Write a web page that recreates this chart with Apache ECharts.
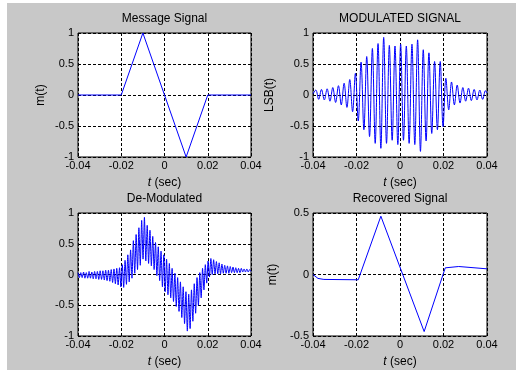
<!DOCTYPE html>
<html>
<head>
<meta charset="utf-8">
<script src="https://cdn.jsdelivr.net/npm/echarts@6/dist/echarts.min.js"></script>
<style>
  html, body { margin: 0; padding: 0; background: #fff; }
  #chart { position: absolute; left: 7px; top: 3px; width: 509px; height: 367px; }
</style>
</head>
<body>
<div id="chart"></div>
<script>
// message signal
const msgT = [-0.04, -0.02, -0.01, 0.01, 0.02, 0.04];
const msgY = [0, 0, 1, -1, 0, 0];

// LSB modulated signal (peaks / troughs)
const lsbT = [-0.04, -0.0387, -0.0374, -0.0361, -0.0348, -0.0335, -0.0322, -0.0309, -0.0296, -0.0283,
  -0.027, -0.0257, -0.0244, -0.0231, -0.0218, -0.0205, -0.0192, -0.0179, -0.0166, -0.0153,
  -0.014, -0.0127, -0.0114, -0.0101, -0.0088, -0.0075, -0.0062, -0.0049, -0.0036, -0.0023,
  -0.001, 0.0003, 0.0016, 0.0029, 0.0042, 0.0055, 0.0068, 0.0081, 0.0094, 0.0107,
  0.012, 0.0133, 0.0146, 0.0159, 0.0172, 0.0185, 0.0198, 0.0211, 0.0224, 0.0237,
  0.025, 0.0263, 0.0276, 0.0289, 0.0302, 0.0315, 0.0328, 0.0341, 0.0354, 0.0367,
  0.038, 0.0393, 0.04];
const lsbY = [0.02, 0.08, -0.07, 0.09, -0.08, 0.10, -0.10, 0.12, -0.12, 0.15,
  -0.16, 0.19, -0.20, 0.25, -0.27, 0.35, -0.42, 0.53, -0.56, 0.62,
  -0.67, 0.75, -0.78, 0.83, -0.86, 0.93, -0.78, 0.80, -0.73, 0.79,
  -0.80, 0.82, -0.73, 0.79, -0.78, 0.82, -0.80, 0.89, -0.91, 0.73,
  -0.74, 0.68, -0.62, 0.54, -0.56, 0.54, -0.51, 0.27, -0.24, 0.21,
  -0.16, 0.16, -0.13, 0.12, -0.10, 0.11, -0.09, 0.09, -0.08, 0.08,
  -0.07, 0.07, 0.03];

// de-modulated signal
const demodT = [-0.04, -0.03936, -0.03872, -0.03808, -0.03744, -0.0368, -0.03616, -0.03552, -0.03488, -0.03424,
  -0.0336, -0.03296, -0.03232, -0.03168, -0.03104, -0.0304, -0.02976, -0.02912, -0.02848, -0.02784,
  -0.0272, -0.02656, -0.02592, -0.02528, -0.02464, -0.024, -0.02336, -0.02272, -0.02208, -0.02144,
  -0.0208, -0.02016, -0.01952, -0.01888, -0.01824, -0.0176, -0.01696, -0.01632, -0.01568, -0.01504,
  -0.0144, -0.01376, -0.01312, -0.01248, -0.01184, -0.0112, -0.01056, -0.00992, -0.00928, -0.00864,
  -0.008, -0.00736, -0.00672, -0.00608, -0.00544, -0.0048, -0.00416, -0.00352, -0.00288, -0.00224,
  -0.0016, -0.00096, -0.00032, 0.00032, 0.00096, 0.0016, 0.00224, 0.00288, 0.00352, 0.00416,
  0.0048, 0.00544, 0.00608, 0.00672, 0.00736, 0.008, 0.00864, 0.00928, 0.00992, 0.01056,
  0.0112, 0.01184, 0.01248, 0.01312, 0.01376, 0.0144, 0.01504, 0.01568, 0.01632, 0.01696,
  0.0176, 0.01824, 0.01888, 0.01952, 0.02016, 0.0208, 0.02144, 0.02208, 0.02272, 0.02336,
  0.024, 0.02464, 0.02528, 0.02592, 0.02656, 0.0272, 0.02784, 0.02848, 0.02912, 0.02976,
  0.0304, 0.03104, 0.03168, 0.03232, 0.03296, 0.0336, 0.03424, 0.03488, 0.03552, 0.03616,
  0.0368, 0.03744, 0.03808, 0.03872, 0.03936, 0.04];
const demodY = [0.03, -0.05, 0.03, -0.05, 0.04, -0.06, 0.03, -0.06, 0.05, -0.06,
  0.04, -0.07, 0.05, -0.07, 0.05, -0.08, 0.06, -0.08, 0.06, -0.09,
  0.07, -0.10, 0.07, -0.11, 0.08, -0.13, 0.09, -0.15, 0.10, -0.17,
  0.11, -0.20, 0.16, -0.21, 0.23, -0.16, 0.32, -0.12, 0.40, -0.06,
  0.55, 0.02, 0.65, 0.08, 0.76, 0.15, 0.88, 0.25, 0.93, 0.22,
  0.80, 0.18, 0.72, 0.14, 0.62, 0.08, 0.52, -0.02, 0.45, -0.10,
  0.38, -0.20, 0.32, -0.28, 0.25, -0.33, 0.18, -0.38, 0.10, -0.44,
  0.02, -0.52, -0.05, -0.60, -0.12, -0.70, -0.20, -0.80, -0.28, -0.92,
  -0.32, -0.88, -0.25, -0.76, -0.15, -0.63, -0.05, -0.50, 0.03, -0.38,
  0.10, -0.25, 0.16, -0.14, 0.22, -0.04, 0.26, 0.00, 0.24, 0.01,
  0.21, 0.01, 0.19, 0.01, 0.17, 0.02, 0.15, 0.02, 0.14, 0.02,
  0.13, 0.03, 0.12, 0.03, 0.11, 0.03, 0.10, 0.03, 0.10, 0.04,
  0.09, 0.04, 0.09, 0.04, 0.08, 0.05];

// recovered signal
const recT = [-0.04, -0.0377, -0.035, -0.0192, -0.0088, 0.0111, 0.0208, 0.027, 0.04];
const recY = [0, -0.032, -0.04, -0.043, 0.474, -0.464, 0.054, 0.065, 0.046];

const titles = ['Message Signal', 'MODULATED SIGNAL', 'De-Modulated', 'Recovered Signal'];
const yNames = ['m(t)', 'LSB(t)', '', 'm(t)'];
const xTicks = {min: -0.04, max: 0.04, interval: 0.02};

const font = "'Liberation Sans', Arial, sans-serif";
const pairs = (ts, ys) => ts.map((t, i) => [t, ys[i]]);

const grids = [
  {left: 71, top: 30, width: 173, height: 124},
  {left: 306, top: 30, width: 174, height: 124},
  {left: 71, top: 210, width: 173, height: 123},
  {left: 306, top: 210, width: 174, height: 123}
];
const nameGaps = [31, 37, 31, 34];
const yRanges = [[-1, 1], [-1, 1], [-1, 1], [-0.5, 0.5]];
const data = [pairs(msgT, msgY), pairs(lsbT, lsbY), pairs(demodT, demodY), pairs(recT, recY)];
// the carrier traces look rounder in the original
const smooth = [false, 0.35, 0.2, false];

const dashed = {show: true, lineStyle: {color: '#000', type: [3, 2], width: 1}};

const option = {
  backgroundColor: '#c8c8c8',
  animation: false,
  textStyle: {fontFamily: font},
  title: grids.map((g, i) => ({
    text: titles[i],
    left: g.left + g.width / 2,
    top: i < 2 ? 10 : 190,
    textAlign: 'center',
    padding: 0,
    textStyle: {fontSize: 12, fontWeight: 'normal', color: '#000', fontFamily: font}
  })),
  grid: grids.map(g => Object.assign({
    show: true,
    backgroundColor: '#fff',
    borderColor: '#000',
    borderWidth: 1
  }, g)),
  xAxis: grids.map((g, i) => ({
    type: 'value',
    gridIndex: i,
    min: xTicks.min,
    max: xTicks.max,
    interval: xTicks.interval,
    name: '{i|t} (sec)',
    nameLocation: 'middle',
    nameGap: 20,
    nameTextStyle: {
      color: '#000', fontSize: 12, fontFamily: font,
      rich: {i: {fontStyle: 'italic', fontSize: 12, color: '#000', fontFamily: font}}
    },
    axisLine: {show: false},
    axisTick: {show: false},
    axisLabel: {
      color: '#000', fontSize: 11, margin: 3, fontFamily: font,
      formatter: v => (Math.abs(v) < 1e-9 ? '0' : v.toFixed(2))
    },
    splitLine: dashed
  })),
  yAxis: grids.map((g, i) => ({
    type: 'value',
    gridIndex: i,
    min: yRanges[i][0],
    max: yRanges[i][1],
    interval: 0.5,
    name: yNames[i],
    nameLocation: 'middle',
    nameGap: nameGaps[i],
    nameTextStyle: {color: '#000', fontSize: 12, fontFamily: font},
    axisLine: {show: false},
    axisTick: {show: false},
    axisLabel: {color: '#000', fontSize: 11, margin: 4, fontFamily: font},
    splitLine: dashed
  })),
  series: data.map((d, i) => ({
    type: 'line',
    xAxisIndex: i,
    yAxisIndex: i,
    data: d,
    showSymbol: false,
    smooth: smooth[i],
    lineStyle: {color: '#0000ff', width: 1},
    z: 3
  }))
};

const myChart = echarts.init(document.getElementById('chart'));
myChart.setOption(option);
</script>
</body>
</html>
